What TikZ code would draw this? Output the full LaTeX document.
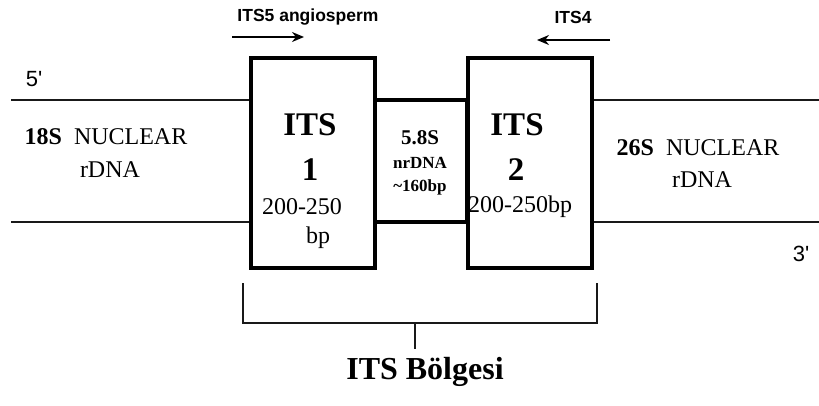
\documentclass[tikz,border=0pt]{standalone}
\usepackage{fontspec}
\setmainfont{Liberation Serif}
\setsansfont{Liberation Sans}
\usetikzlibrary{arrows.meta, positioning}

\begin{document}
\begin{tikzpicture}[x=1pt, y=-1pt,
    itsbox/.style={draw, rectangle, line width=4pt, minimum width=124pt, minimum height=210pt, inner sep=0pt},
    midbox/.style={draw, rectangle, line width=3.5pt, minimum width=92pt, minimum height=122pt, inner sep=0pt},
    txt/.style={font=\fontsize{#1}{#1}\selectfont, inner sep=0pt},
    bftxt/.style={font=\bfseries\fontsize{#1}{#1}\selectfont, inner sep=0pt},
    sftxt/.style={font=\sffamily\fontsize{#1}{#1}\selectfont, inner sep=0pt},
    sfbftxt/.style={font=\sffamily\bfseries\fontsize{#1}{#1}\selectfont, inner sep=0pt},
    strand/.style={line width=1.6pt, draw=black!90},
    primer/.style={line width=1.8pt, -{Stealth[length=12pt, width=10pt]}}]
    % variables
    \pgfmathsetmacro{\vTop}{100}
    \pgfmathsetmacro{\vBot}{222}

    \useasboundingbox (0,0) rectangle (819,405);

    % boxes
    \node[midbox] (mid) at (421,161) {};
    \node[itsbox] (its1) at (313,163) {};
    \node[itsbox] (its2) at (529.5,163) {};

    % strands
    \coordinate (L5) at (11,\vTop);
    \coordinate (L3) at (11,\vBot);
    \coordinate (R5) at (819,\vTop);
    \coordinate (R3) at (819,\vBot);
    \draw[strand] (L5) -- (L5 -| its1.west);
    \draw[strand] (L3) -- (L3 -| its1.west);
    \draw[strand] (R5) -- (R5 -| its2.east);
    \draw[strand] (R3) -- (R3 -| its2.east);

    \node[sftxt=22] (end5) at (34,79) {5\textquotesingle};
    \node[sftxt=22] (end3) at (801,254) {3\textquotesingle};

    % primers
    \node[sfbftxt=17.5] (fwd) at (308,17) {ITS5 angiosperm};
    \node[sfbftxt=17.5] (rev) at (573,17) {ITS4};
    \coordinate (fwdA) at (232,37);
    \coordinate (fwdB) at (304,37);
    \coordinate (revA) at (610,40);
    \coordinate (revB) at (537,40);
    \draw[primer] (fwdA) -- (fwdB);
    \draw[primer] (revA) -- (revB);

    % labels
    \node[txt=24] (s18) at (106,137) {\textbf{18S}~~NUCLEAR};
    \node[txt=24] (s18b) at (110,170) {rDNA};
    \node[txt=24] (s26) at (698,148) {\textbf{26S}~~NUCLEAR};
    \node[txt=24] (s26b) at (702,180) {rDNA};

    \node[bftxt=33] (t1) at (310,125) {ITS};
    \node[bftxt=33] (n1) at (310,170) {1};
    \node[txt=24] (len1) at (302,207) {200-250};
    \node[txt=24] (bp1) at (318,238) {bp};

    \node[bftxt=33] (t2) at (517,125) {ITS};
    \node[bftxt=33] (n2) at (516,170) {2};
    \node[txt=24] (len2) at (520,207) {200-250bp};

    \node[bftxt=21] (m1) at (420,138) {5.8S};
    \node[bftxt=17] (m2) at (420,163) {nrDNA};
    \node[bftxt=17] (m3) at (420,187) {\textasciitilde160bp};

    % bracket
    \coordinate (bl) at (243,283);
    \coordinate (br) at (597,283);
    \coordinate (bm) at (415,323);
    \coordinate (bs) at (415,349);
    \draw[strand] (bl) |- (bm) -| (br);
    \draw[strand] (bm) -- (bs);
    \node[bftxt=32] (region) at (425,372) {ITS Bölgesi};
\end{tikzpicture}
\end{document}
